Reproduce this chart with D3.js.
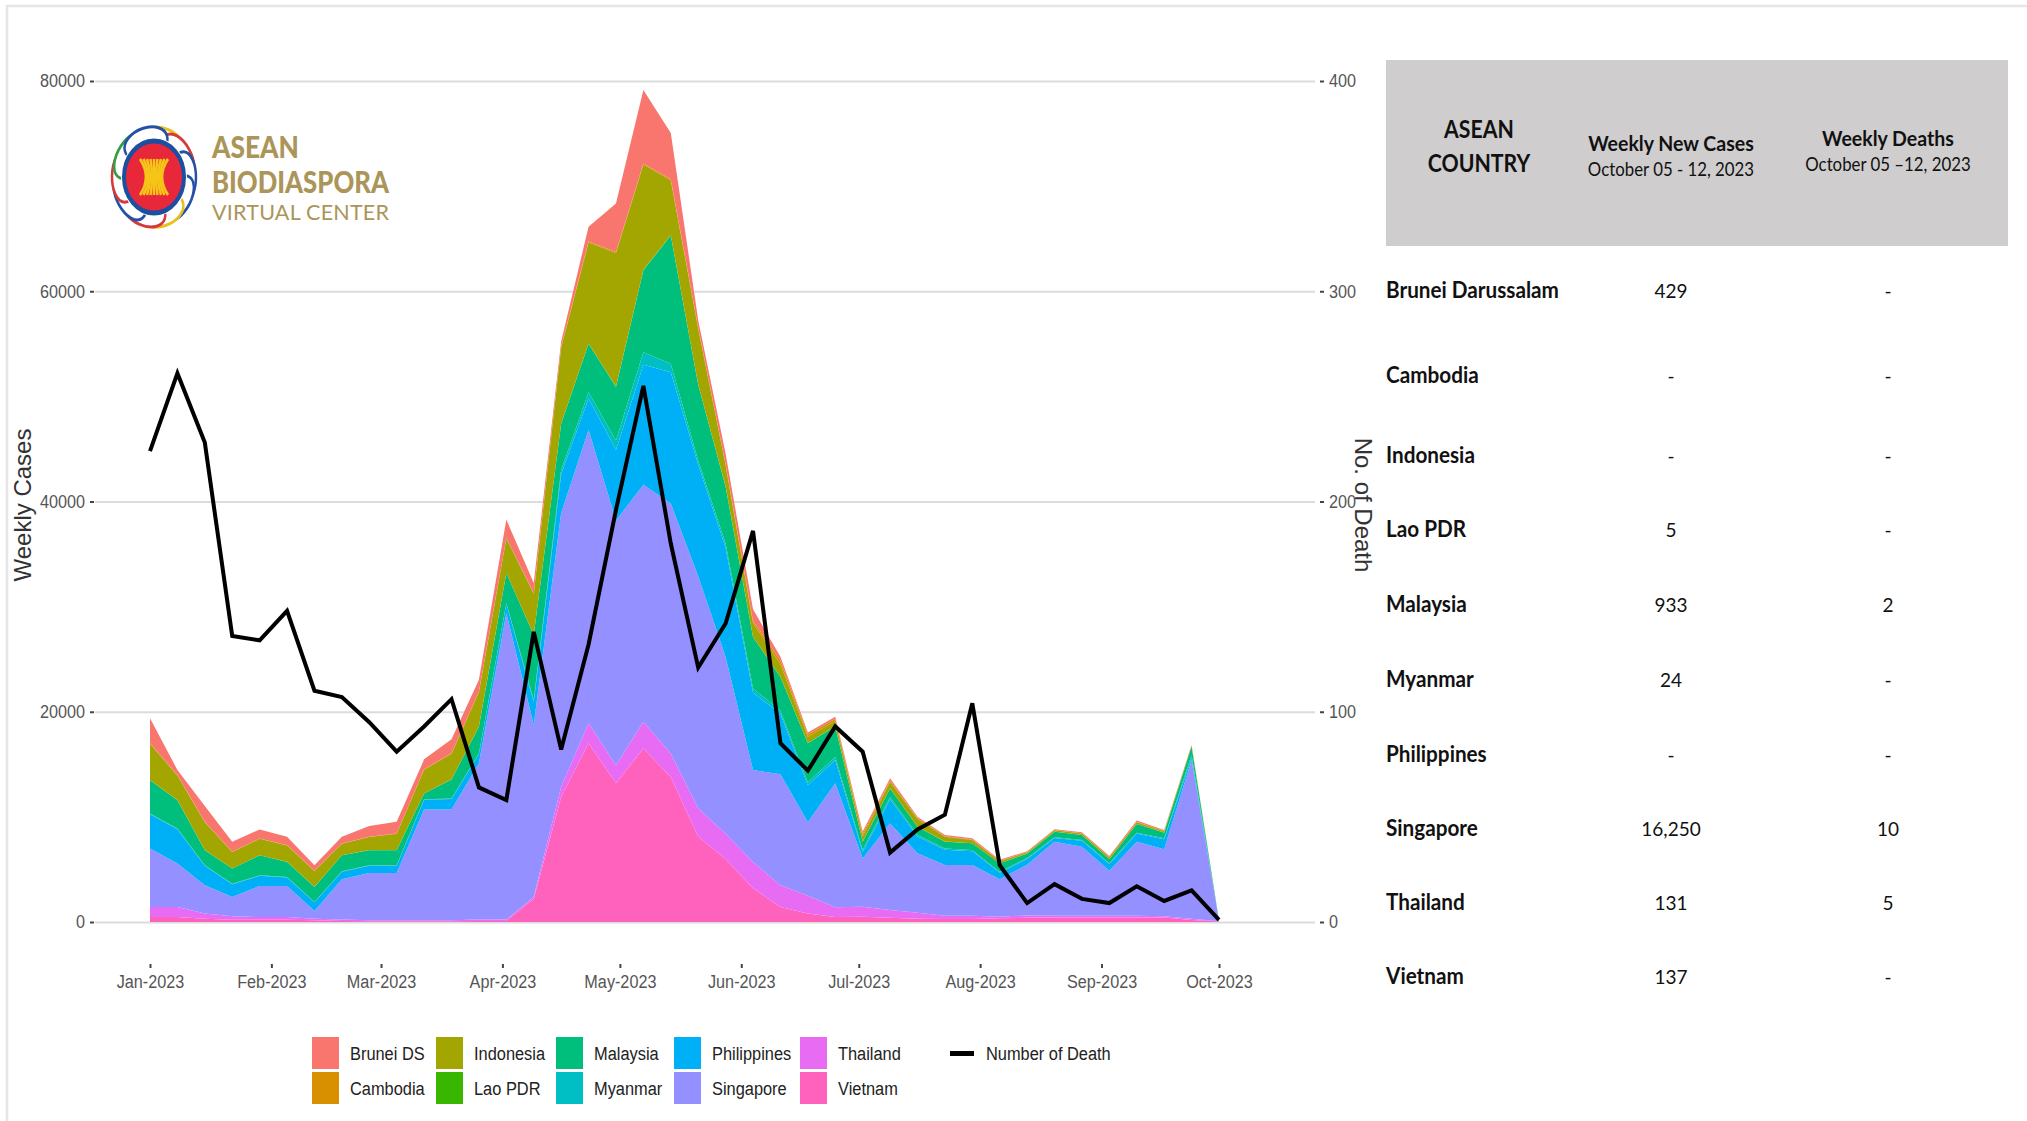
<!DOCTYPE html>
<html>
<head>
<meta charset="utf-8">
<script src="https://cdn.jsdelivr.net/npm/d3@7"></script>
<style>
  html, body { margin: 0; padding: 0; background: #fff; }
  svg { display: block; }
  .axis text { font-family: "Liberation Sans", sans-serif; font-size: 18px; fill: #555; }
  .axis path { display: none; }
  .axis line { stroke: #444; stroke-width: 2px; }
  .grid path { display: none; }
  .grid line { stroke: #dcdcdc; stroke-width: 2px; }
  .legend text { font-family: "Liberation Sans", sans-serif; font-size: 18px; fill: #222; }
  .table text { font-family: Lato, sans-serif; fill: #111; }
</style>
</head>
<body>
<svg id="chart"></svg>
<script>
// weekly cases per country
const brunei = [2380,480,1500,950,860,790,540,640,1020,1110,950,1330,1110,1750,950,500,1400,4600,7000,4400,700,1000,1100,350,200,200,250,210,130,120,120,80,70,70,90,110,140,90,40,5];
const cambodia = [50,50,40,30,30,30,30,30,30,30,30,40,40,50,70,100,100,100,100,100,100,100,200,350,200,200,200,150,100,60,60,40,30,30,30,30,30,30,20,3];
const indonesia = [3440,2330,2660,1560,1560,1560,1490,1080,1240,1560,2260,2440,3290,3280,3900,7200,9600,12700,10000,5200,5300,2000,1300,1200,600,500,500,600,700,450,300,200,120,120,140,180,150,130,100,5];
const lao = [15,15,10,10,10,10,10,10,10,10,10,10,15,15,30,30,40,40,50,50,40,40,40,30,30,30,20,20,20,10,10,10,10,10,10,10,10,10,10,2];
const malaysia = [3170,2700,1430,1430,1900,1430,1430,1520,1430,1430,540,1810,2540,2860,6190,4400,4600,5100,7800,12200,7200,5400,4900,3200,3700,2900,790,800,800,640,630,790,420,540,470,380,820,540,800,10];
const myanmar = [60,60,50,50,50,40,40,40,40,40,40,50,50,60,200,400,600,900,1200,800,400,400,400,300,300,300,200,220,140,120,120,100,80,70,70,70,80,80,250,5];
const philippines = [3270,3270,1850,1220,970,820,820,720,690,690,940,1000,900,890,2180,3700,3000,6700,11400,12500,10600,10400,7350,5750,3500,2200,600,2300,1600,1460,1310,630,550,340,570,630,780,970,230,5];
const singapore = [5560,4130,2700,1840,2950,2950,730,3840,4510,4510,10540,10540,14860,29150,16350,26040,27900,23300,22550,23800,22100,16800,8750,10550,7000,11800,4590,8240,5640,4820,4820,3560,4820,7040,6560,4280,7040,6370,15100,60];
const thailand = [950,950,480,320,250,250,160,130,100,100,100,100,130,130,160,960,1900,1700,2550,2200,2700,2400,2500,2070,1700,920,960,740,570,310,310,150,220,160,160,160,160,100,100,20];
const vietnam = [480,480,320,220,220,220,160,100,60,60,60,60,100,100,2220,11900,17000,13200,16500,13800,8100,6000,3200,1430,800,480,500,400,320,290,290,350,410,440,440,440,440,440,200,40];
const deaths = [224,261,228,136,134,148,110,107,95,81,93,106,64,58,138,82,132,196,255,180,121,142,186,85,72,93,81,33,44,51,104,27,9,18,11,9,17,10,15,1];

const countries = ["Brunei DS","Cambodia","Indonesia","Lao PDR","Malaysia","Myanmar","Philippines","Singapore","Thailand","Vietnam"];
const colors = ["#F8766D","#D89000","#A3A500","#39B600","#00BF7D","#00BFC4","#00B0F6","#9590FF","#E76BF3","#FF62BC"];
const seriesValues = [brunei,cambodia,indonesia,lao,malaysia,myanmar,philippines,singapore,thailand,vietnam];

const caseTicks = [0,20000,40000,60000,80000];
const deathTicks = [0,100,200,300,400];

// table
const tableCountries = ["Brunei Darussalam","Cambodia","Indonesia","Lao PDR","Malaysia","Myanmar","Philippines","Singapore","Thailand","Vietnam"];
const tableCases = ["429","-","-","5","933","24","-","16,250","131","137"];
const tableDeaths = ["-","-","-","-","2","-","-","10","5","-"];

const width = 2027, height = 1121;
const svg = d3.select("#chart").attr("width", width).attr("height", height);

// the reference is squeezed sideways, so narrow the glyphs the same way
function squeeze(sel, k) {
  sel.each(function() {
    this.setAttribute("textLength", this.getComputedTextLength() * k);
    this.setAttribute("lengthAdjust", "spacingAndGlyphs");
  });
  return sel;
}

// frame of the slide
svg.append("path").attr("d", `M7,${height} V6 H${width}`).attr("fill", "none").attr("stroke", "#e6e6e6").attr("stroke-width", 2.5);

const weeks = d3.timeDay.range(new Date(2023,0,1), new Date(2023,9,2), 7);

const x = d3.scaleTime().domain([new Date(2023,0,1), new Date(2023,9,1)]).range([150,1219]);
const y = d3.scaleLinear().domain([0,80000]).range([922,81]);
const yDeath = d3.scaleLinear().domain([0,400]).range([922,81]);

// grid
svg.append("g").attr("class","grid").attr("transform","translate(95,0)")
  .call(d3.axisLeft(y).tickValues(caseTicks).tickSize(-1220).tickFormat(""));

// stacked areas
const rows = weeks.map((d,i) => {
  const r = { date: d };
  countries.forEach((c,j) => r[c] = seriesValues[j][i]);
  return r;
});
const stack = d3.stack().keys(countries.slice().reverse());
const area = d3.area().x(d => x(d.data.date)).y0(d => y(d[0])).y1(d => y(d[1]));
svg.append("g").selectAll("path").data(stack(rows)).enter().append("path")
  .attr("d", area)
  .attr("fill", d => colors[countries.indexOf(d.key)]);

// deaths
const line = d3.line().x((d,i) => x(weeks[i])).y(d => yDeath(d));
svg.append("path").datum(deaths).attr("d", line)
  .attr("fill","none").attr("stroke","#000").attr("stroke-width",4).attr("stroke-linejoin","miter");

// axes
svg.append("g").attr("class","axis").attr("transform","translate(0,964)")
  .call(d3.axisBottom(x).tickValues(d3.timeMonth.range(new Date(2023,0,1), new Date(2023,9,2))).tickFormat(d3.timeFormat("%b-%Y")).tickSize(4).tickPadding(7));
svg.append("g").attr("class","axis").attr("transform","translate(94,0)")
  .call(d3.axisLeft(y).tickValues(caseTicks).tickFormat(d3.format("d")).tickSize(4).tickPadding(5));
svg.append("g").attr("class","axis").attr("transform","translate(1320,0)")
  .call(d3.axisRight(yDeath).tickValues(deathTicks).tickFormat(d3.format("d")).tickSize(4).tickPadding(5));
squeeze(svg.selectAll(".axis text"), 0.9);

svg.append("text").attr("transform","translate(31,505) rotate(-90)").attr("text-anchor","middle")
  .attr("font-family","Liberation Sans").attr("font-size",24).attr("fill","#333").text("Weekly Cases");
svg.append("text").attr("transform","translate(1355,505) rotate(90)").attr("text-anchor","middle")
  .attr("font-family","Liberation Sans").attr("font-size",24).attr("fill","#333").text("No. of Death");

// legend
const legendX = [312,436,556,674,800];
const legend = svg.append("g").attr("class","legend");
countries.forEach((c,i) => {
  const col = Math.floor(i/2), row = i%2;
  const g = legend.append("g").attr("transform",`translate(${legendX[col]},${1037+row*35})`);
  g.append("rect").attr("width",27).attr("height",32).attr("fill",colors[i]);
  g.append("text").attr("x",38).attr("y",23).text(c);
});
legend.append("rect").attr("x",950).attr("y",1051).attr("width",24).attr("height",5).attr("fill","#000");
legend.append("text").attr("x",986).attr("y",1060).text("Number of Death");
squeeze(legend.selectAll("text"), 0.91);

// logo, taller than wide like the squeezed original
const logo = svg.append("g").attr("transform","translate(154,177) scale(1,1.2)");
const loopColors = ["#e8c21c","#d43a3a","#2451a8","#2451a8","#e8c21c","#d43a3a","#2451a8","#d43a3a","#2f9e44","#2451a8"];
loopColors.forEach((c,i) => {
  const a = i/loopColors.length*360 - 70;
  logo.append("ellipse").attr("transform",`rotate(${a}) translate(29,0)`).attr("rx",13).attr("ry",22)
    .attr("fill","#fff").attr("stroke",c).attr("stroke-width",2.5);
});
logo.append("circle").attr("r",33).attr("fill","#fff");
logo.append("circle").attr("r",30).attr("fill","#e8283a").attr("stroke","#1c4fa0").attr("stroke-width",4);
d3.range(-14,15,3.5).forEach(s => {
  logo.append("path").attr("d",`M${s},-15 Q${s*0.15},0 ${s},15`).attr("fill","none").attr("stroke","#f5c518").attr("stroke-width",2.6);
});
const logoText = svg.append("g").attr("font-family","Lato").attr("fill","#ab9559");
logoText.append("text").attr("x",212).attr("y",158).attr("font-size",31).attr("font-weight",900)
  .attr("textLength",87).attr("lengthAdjust","spacingAndGlyphs").text("ASEAN");
logoText.append("text").attr("x",212).attr("y",193).attr("font-size",31).attr("font-weight",900)
  .attr("textLength",177).attr("lengthAdjust","spacingAndGlyphs").text("BIODIASPORA");
logoText.append("text").attr("x",212).attr("y",220).attr("font-size",21.5)
  .attr("textLength",177).text("VIRTUAL CENTER");

// table
const table = svg.append("g").attr("class","table");
table.append("rect").attr("x",1386).attr("y",60).attr("width",622).attr("height",186).attr("fill","#cfcdce");
const colCases = 1671, colDeaths = 1888;
const head = (txt,cx,cy,size,weight,k) => squeeze(table.append("text").attr("x",cx).attr("y",cy).attr("text-anchor","middle")
  .attr("font-size",size).attr("font-weight",weight).text(txt), k);
head("ASEAN",1479,138,25,700,0.85);
head("COUNTRY",1479,172,25,700,0.85);
head("Weekly New Cases",colCases,151,21,700,0.93);
head("October 05 - 12, 2023",colCases,176,19,400,0.885);
head("Weekly Deaths",colDeaths,146,21,700,0.93);
head("October 05 \u201312, 2023",colDeaths,171,19,400,0.885);

const rowY = [290,375,455,529,604,679,754,828,902,976];
tableCountries.forEach((c,i) => {
  squeeze(table.append("text").attr("x",1386).attr("y",rowY[i]+8).attr("font-size",23).attr("font-weight",700).text(c), 0.9);
  head(tableCases[i],colCases,rowY[i]+8,20,400,0.95);
  head(tableDeaths[i],colDeaths,rowY[i]+8,20,400,0.95);
});
</script>
</body>
</html>
